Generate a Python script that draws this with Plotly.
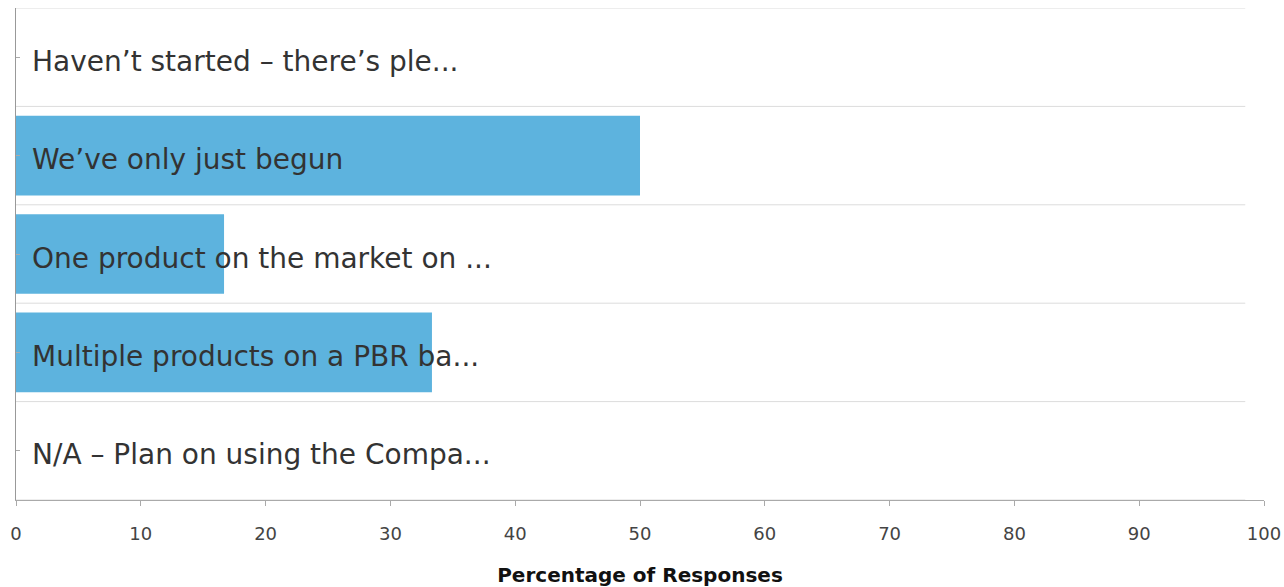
import plotly.graph_objects as go

# Survey responses (percentage of respondents per answer)
categories = [
    "Haven’t started – there’s ple...",
    "We’ve only just begun",
    "One product on the market on ...",
    "Multiple products on a PBR ba...",
    "N/A – Plan on using the Compa...",
]
percentages = [0, 50, 16.67, 33.33, 0]
x_ticks = [0, 10, 20, 30, 40, 50, 60, 70, 80, 90, 100]

FONT = "DejaVu Sans, Verdana, sans-serif"
positions = list(range(len(categories)))

fig = go.Figure(
    go.Bar(
        x=percentages,
        y=positions,
        orientation="h",
        marker=dict(color="#5DB3DE", line=dict(width=0)),
        width=0.81,
        hoverinfo="x",
    )
)

# Row separators between categories
for i in range(len(categories) + 1):
    yb = i - 0.5
    fig.add_shape(
        type="line", xref="paper", yref="y",
        x0=0, x1=0.985, y0=yb, y1=yb,
        line=dict(color="#DCDCDC", width=1), layer="below",
    )

# Category labels drawn inside each row
for pos, label in zip(positions, categories):
    fig.add_annotation(
        x=0, y=pos, xref="paper", yref="y",
        text=label, showarrow=False,
        xanchor="left", yanchor="middle", xshift=14, yshift=-4,
        font=dict(family=FONT, size=28, color="#333333"),
    )

fig.update_layout(
    width=1284, height=587,
    margin=dict(l=16, r=20, t=8, b=87),
    paper_bgcolor="white", plot_bgcolor="white",
    showlegend=False,
    font=dict(family=FONT, color="#333333"),
    xaxis=dict(
        range=[0, 100], tickvals=x_ticks,
        ticktext=[str(v) for v in x_ticks],
        showgrid=False, zeroline=False, automargin=False,
        showline=True, linecolor="#AAAAAA", linewidth=1,
        ticks="outside", ticklen=5, tickcolor="#AAAAAA",
        ticklabelstandoff=12,
        tickfont=dict(family=FONT, size=18, color="#444444"),
        title=dict(text="<b>Percentage of Responses</b>",
                   font=dict(family=FONT, size=20, color="#111111"),
                   standoff=26),
    ),
    yaxis=dict(
        range=[len(categories) - 0.5, -0.5],
        tickvals=positions, showticklabels=False,
        showgrid=False, zeroline=False, automargin=False,
        showline=True, linecolor="#999999", linewidth=1,
        ticks="inside", ticklen=4, tickcolor="#AAAAAA",
    ),
)

fig.write_html("out.html")
